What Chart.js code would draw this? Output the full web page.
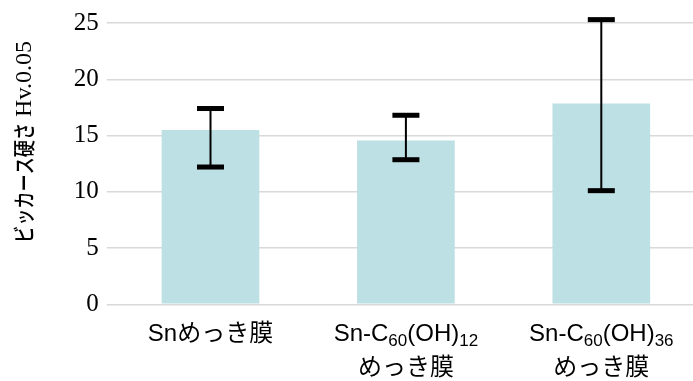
<!DOCTYPE html>
<html>
<head>
<meta charset="utf-8">
<script src="https://cdn.jsdelivr.net/npm/chart.js@4.4.1/dist/chart.umd.min.js"></script>
<style>
  html, body { margin: 0; padding: 0; background: #fff; overflow: hidden; }
  #wrap { position: relative; width: 699px; height: 381px; }
</style>
</head>
<body>
<div id="wrap"><canvas id="chart"></canvas></div>
<script>
// labels: each entry is a list of lines, _{..} marks a subscript
const categories = [
    ['Snめっき膜'],
    ['Sn-C_{60}(OH)_{12}', 'めっき膜'],
    ['Sn-C_{60}(OH)_{36}', 'めっき膜']
];
const hardness = [15.5, 14.55, 17.85];
const errLow = [12.2, 12.85, 10.1];
const errHigh = [17.4, 16.8, 25.3];
const yTicks = [0, 5, 10, 15, 20, 25];
const yTitleJa = 'ビッカース硬さ';
const yTitleEn = ' Hv.0.05';

const sansFont = '"Liberation Sans", "Noto Sans CJK JP", sans-serif';
const serifFont = '"Liberation Serif", serif';

function parseLine(line) {
    const parts = [];
    const re = /_\{([^}]*)\}/g;
    let last = 0, m;
    while ((m = re.exec(line)) !== null) {
        if (m.index > last) parts.push({ text: line.slice(last, m.index), sub: false });
        parts.push({ text: m[1], sub: true });
        last = re.lastIndex;
    }
    if (last < line.length) parts.push({ text: line.slice(last), sub: false });
    return parts;
}

const errorBars = {
    id: 'errorBars',
    afterDatasetsDraw(chart) {
        const ctx = chart.ctx;
        const y = chart.scales.y;
        const meta = chart.getDatasetMeta(0);
        ctx.save();
        ctx.fillStyle = '#000';
        meta.data.forEach((bar, i) => {
            const top = y.getPixelForValue(errHigh[i]);
            const bot = y.getPixelForValue(errLow[i]);
            ctx.fillRect(bar.x - 1, top, 2, bot - top);
            ctx.fillRect(bar.x - 13.5, top - 2.5, 27, 5);
            ctx.fillRect(bar.x - 13.5, bot - 2.5, 27, 5);
        });
        ctx.restore();
    }
};

const customLabels = {
    id: 'customLabels',
    afterDraw(chart) {
        const ctx = chart.ctx;
        const x = chart.scales.x;
        ctx.save();
        ctx.fillStyle = '#000';
        ctx.textBaseline = 'alphabetic';
        const baselines = [341, 375];
        categories.forEach((lines, i) => {
            const cx = x.getPixelForValue(i);
            lines.forEach((line, j) => {
                const parts = parseLine(line);
                let w = 0;
                parts.forEach(p => {
                    ctx.font = (p.sub ? '17px ' : '24px ') + sansFont;
                    p.w = ctx.measureText(p.text).width;
                    w += p.w;
                });
                let px = cx - w / 2;
                parts.forEach(p => {
                    ctx.font = (p.sub ? '17px ' : '24px ') + sansFont;
                    ctx.fillText(p.text, px, baselines[j] + (p.sub ? 5 : 0));
                    px += p.w;
                });
            });
        });

        // y axis title, rotated
        ctx.translate(24, 243);
        ctx.rotate(-Math.PI / 2);
        ctx.textBaseline = 'middle';
        ctx.save();
        ctx.scale(0.78, 1);
        ctx.font = '500 22px "Noto Sans CJK JP", sans-serif';
        ctx.fillText(yTitleJa, 0, 0);
        const jw = ctx.measureText(yTitleJa).width * 0.78;
        ctx.restore();
        ctx.font = '24px ' + serifFont;
        ctx.fillText(yTitleEn, jw, 1);
        ctx.restore();
    }
};

new Chart(document.getElementById('chart'), {
    type: 'bar',
    data: {
        labels: categories.map(c => c.join(' ')),
        datasets: [{
            data: hardness,
            backgroundColor: '#bce0e3',
            borderWidth: 0,
            barPercentage: 0.5,
            categoryPercentage: 1.0
        }]
    },
    options: {
        responsive: true,
        maintainAspectRatio: false,
        animation: false,
        layout: { padding: { top: 21, right: 0, left: 0, bottom: 0 } },
        plugins: {
            legend: { display: false },
            tooltip: { enabled: false }
        },
        scales: {
            x: {
                grid: { display: false },
                border: { display: false },
                ticks: { display: false },
                afterFit(scale) { scale.height = 76.7; }
            },
            y: {
                min: 0,
                max: 25,
                afterBuildTicks(scale) { scale.ticks = yTicks.map(v => ({ value: v })); },
                grid: { color: '#d9d9d9', lineWidth: 1.5, drawTicks: true, tickLength: 6 },
                border: { display: false },
                ticks: {
                    color: '#000',
                    font: { family: serifFont, size: 25 },
                    padding: 8
                },
                afterFit(scale) { scale.width = 112.8; }
            }
        }
    },
    plugins: [errorBars, customLabels]
});
</script>
</body>
</html>
